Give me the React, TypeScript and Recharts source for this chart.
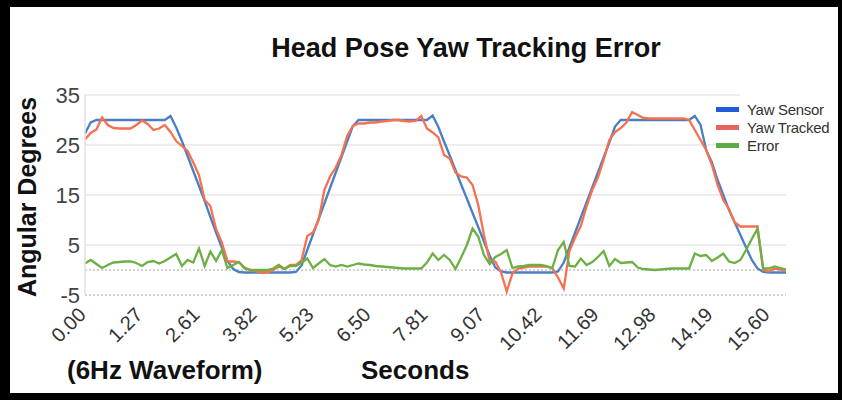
import React from "react";
import { LineChart, Line, XAxis, YAxis, CartesianGrid, ReferenceLine, Legend } from "recharts";

// sample timestamps shown on the axis (one label every 10 samples)
const timeLabels = ["0.00", "1.27", "2.61", "3.82", "5.23", "6.50", "7.81", "9.07", "10.42", "11.69", "12.98", "14.19", "15.60"];

const yawSensor = [
  27.3, 29.5, 30, 30, 30, 30, 30, 30, 30, 30, 30, 30, 30, 30, 30, 30.8, 28.5, 25.8, 22.8, 19.8,
  16.8, 13.8, 10.6, 7.5, 4.5, 1.8, 0.2, -0.4, -0.5, -0.5, -0.5, -0.5, -0.5, -0.5, -0.5, -0.5, -0.5, -0.4, 0.9, 4,
  7.1, 10.2, 13.3, 16.4, 19.5, 22.6, 25.7, 28.8, 30, 30, 30, 30, 30, 30, 30, 30, 30, 30, 30, 30,
  30, 30.9, 28.6, 25.7, 22.9, 20, 17.1, 14.3, 11.4, 8.6, 5.7, 2.9, 0.5, -0.3, -0.5, -0.5, -0.5, -0.5, -0.5, -0.5,
  -0.5, -0.5, -0.5, -0.3, 1.5, 4.5, 7.5, 10.5, 13.5, 16.5, 19.5, 22.5, 25.5, 28.7, 30, 30, 30, 30, 30, 30,
  30, 30, 30, 30, 30, 30, 30, 30.8, 29, 24, 21.5, 18, 15, 12, 9.5, 7, 4.5, 2, 0.3, -0.4,
  -0.5, -0.5, -0.5, -0.5,
];

const yawTracked = [
  26.1, 27.4, 28.1, 30.5, 29, 28.4, 28.3, 28.3, 28.3, 29, 29.9, 29.2, 28, 28.3, 29, 27.6, 25.8, 24.8, 23.8, 21.5,
  19, 14, 12.8, 8.2, 5.5, 1.7, 1.7, 1.6, 0.5, 0, -0.3, -0.5, -0.5, 0, 0.7, 0.2, 1, 1, 2, 6.8,
  7.5, 10, 16, 18.7, 20.5, 23, 26.8, 28.8, 29.3, 29.3, 29.5, 29.5, 29.7, 29.8, 30, 30, 29.8, 29.7, 29.8, 30.8,
  28.3, 27.5, 26.5, 23, 22.3, 19.5, 18.7, 18.5, 17, 13, 7, 1.8, 1.7, -0.5, -4.3, -0.7, 0.3, 0.5, 0.7, 0.7,
  0.7, 0.7, 0.3, -1.5, -3.7, 3.8, 6.5, 8.8, 12.7, 16, 18.5, 22, 26, 27.6, 28.4, 29.5, 31.6, 31, 30.4, 30.3,
  30.3, 30.3, 30.3, 30.3, 30.3, 30.3, 30, 28, 26, 24, 21, 17, 14, 12.2, 9.5, 8.7, 8.7, 8.7, 8.7, 0,
  -0.3, 0.3, 0.1, 0,
];

const trackingError = [
  1.3, 2, 1.2, 0.4, 1, 1.5, 1.6, 1.7, 1.7, 1.4, 0.8, 1.6, 1.8, 1.3, 1.8, 2.5, 3.2, 0.8, 2, 1.5,
  4.3, 0.8, 3.7, 1.8, 4, 0.4, 1, 1.6, 0.3, 0, 0, 0, 0, 0.3, 1, 0.2, 0.8, 0.8, 1.5, 2.3,
  0.4, 1.3, 2.2, 1, 0.7, 1, 0.7, 1, 1.3, 1.1, 1, 0.8, 0.7, 0.6, 0.5, 0.4, 0.3, 0.3, 0.3, 0.3,
  1.5, 3.3, 2, 3, 2, 0.2, 2.5, 5, 8.3, 6.7, 3, 1.2, 2.6, 3.2, 4, 0.4, 0.7, 0.8, 1, 1,
  1, 0.8, 0.4, 4, 5.6, 0.8, 0.7, 2.3, 1, 1.6, 2.6, 3.8, 0.8, 2.2, 1.4, 1.5, 1.6, 0.5, 0.2, 0.1,
  0, 0.1, 0.2, 0.3, 0.3, 0.3, 0.3, 3.3, 2.8, 3, 1.8, 2.5, 3.3, 1.7, 1.4, 2, 4, 6.2, 8.3, 0.3,
  0.3, 0.7, 0.4, 0.1,
];

const yTicks = [-5, 5, 15, 25, 35];

const seriesNames = ["Yaw Sensor", "Yaw Tracked", "Error"];
const lineColors = ["#4a7fc3", "#f7704f", "#6cb043"];
const legendColors = ["#1f5bd6", "#e8645f", "#5cab45"];

const data = yawSensor.map((v, i) => ({
  i,
  sensor: v,
  tracked: yawTracked[i],
  error: trackingError[i],
}));

const font = "'Liberation Sans', Arial, sans-serif";

const XTick = (props: any) => {
  const { x, y, payload } = props;
  const label = timeLabels[payload.value / 10];
  return (
    <text
      transform={`translate(${x + 2},${y + 13}) rotate(-45)`}
      textAnchor="end"
      fontSize={20}
      fill="#333"
      fontFamily={font}
    >
      {label}
    </text>
  );
};

const LegendBox = () => (
  <div style={{ position: "relative", background: "#fff", padding: "3px 0 2px 0", fontFamily: font, fontSize: 15, color: "#333" }}>
    {/* the legend box hides the end of the top grid line */}
    <div style={{ position: "absolute", left: 24, top: -6, width: 98, height: 8, background: "#fff" }} />
    {seriesNames.map((name, k) => (
      <div key={name} style={{ display: "flex", alignItems: "center", height: 18 }}>
        <span style={{ display: "inline-block", width: 23, height: 5, background: legendColors[k], marginRight: 8 }} />
        <span style={{ whiteSpace: "nowrap", letterSpacing: -0.3 }}>{name}</span>
      </div>
    ))}
  </div>
);

const textStyle: React.CSSProperties = {
  position: "absolute",
  fontFamily: font,
  fontWeight: "bold",
  color: "#111",
  lineHeight: 1,
  whiteSpace: "nowrap",
};

export default function App() {
  return (
    <div style={{ position: "absolute", left: 0, top: 0, width: 842, height: 400, background: "#000", overflow: "hidden" }}>
      <div style={{ position: "absolute", left: 10, top: 7, width: 828, height: 386, background: "#fff" }} />
      <div style={{ position: "absolute", left: 0, top: 0 }}>
        <LineChart width={842} height={400} data={data} margin={{ top: 95, right: 56, bottom: 45, left: 0 }}>
          <CartesianGrid vertical={false} stroke="#e6e6e6" strokeWidth={1.5} horizontalValues={[5, 15, 25, 35]} />
          <ReferenceLine y={0} stroke="#c4c4c4" strokeWidth={1.5} strokeDasharray="2 2" />
          <ReferenceLine y={-5} stroke="#c4c4c4" strokeWidth={1.5} strokeDasharray="2 2" />
          <XAxis dataKey="i" type="category" interval={9} axisLine={false} tickLine={false} tick={<XTick />} height={60} />
          <YAxis
            domain={[-5, 35]}
            ticks={yTicks}
            width={85}
            axisLine={{ stroke: "#e0e0e0", strokeWidth: 1.5 }}
            tickLine={false}
            tickSize={3}
            tickMargin={2}
            tick={{ fontSize: 22, fill: "#444", fontFamily: font }}
          />
          <Line dataKey="sensor" name={seriesNames[0]} stroke={lineColors[0]} strokeWidth={2.3} dot={false} isAnimationActive={false} />
          <Line dataKey="tracked" name={seriesNames[1]} stroke={lineColors[1]} strokeWidth={2.3} dot={false} isAnimationActive={false} />
          <Line dataKey="error" name={seriesNames[2]} stroke={lineColors[2]} strokeWidth={2.3} dot={false} isAnimationActive={false} />
          <Legend
            layout="vertical"
            align="center"
            verticalAlign="middle"
            content={<LegendBox />}
            wrapperStyle={{ position: "absolute", left: 716, top: 97, width: 122 }}
          />
        </LineChart>
      </div>
      <div style={{ ...textStyle, fontSize: 27, left: 466, top: 35, transform: "translateX(-50%)" }}>
        Head Pose Yaw Tracking Error
      </div>
      <div style={{ ...textStyle, fontSize: 25, left: 27, top: 197, transform: "translate(-50%,-50%) rotate(-90deg)" }}>
        Angular Degrees
      </div>
      <div style={{ ...textStyle, fontSize: 26, left: 67, top: 357 }}>(6Hz Waveform)</div>
      <div style={{ ...textStyle, fontSize: 26, left: 361, top: 357 }}>Seconds</div>
    </div>
  );
}
